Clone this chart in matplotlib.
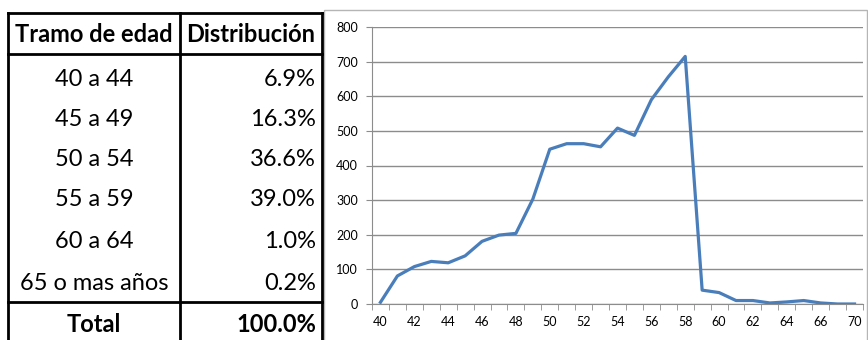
import matplotlib.pyplot as plt
from matplotlib.patches import Rectangle

# table data
tramos = ['40 a 44', '45 a 49', '50 a 54', '55 a 59', '60 a 64', '65 o mas años']
distribucion = ['6.9%', '16.3%', '36.6%', '39.0%', '1.0%', '0.2%']
total_label = 'Total'
total_value = '100.0%'

# line chart data (ages on a category axis)
edades = [40, 41, 42, 43, 44, 45, 46, 47, 48, 49, 50, 51, 52, 53, 54, 55, 56, 57,
          58, 59, 60, 61, 62, 63, 64, 65, 66, 68, 70]
valores = [5, 81, 108, 123, 119, 139, 181, 199, 204, 303, 447, 463, 463, 454, 508,
           487, 590, 656, 715, 40, 33, 10, 10, 3, 6, 10, 3, 0, 0]

plt.rcParams['font.family'] = ['Lato', 'DejaVu Sans']

W, H = 868, 340
fig = plt.figure(figsize=(W / 100, H / 100), dpi=100)

# background axes in pixel coordinates for table and frame
bg = fig.add_axes([0, 0, 1, 1])
bg.set_xlim(0, W)
bg.set_ylim(H, 0)
bg.axis('off')

lw = 2.0
x0, xm, x1 = 8, 180, 322
bg.plot([x0, x1], [13, 13], color='black', lw=lw)
bg.plot([x0, x1], [54, 54], color='black', lw=lw)
bg.plot([x0, x1], [302, 302], color='black', lw=lw)
for x in (x0, xm, x1):
    bg.plot([x, x], [13, H], color='black', lw=lw)

fs = 17
bg.text((x0 + xm) / 2, 34, 'Tramo de edad', ha='center', va='center',
        fontsize=fs, fontweight='bold')
bg.text((xm + x1) / 2, 34, 'Distribución', ha='center', va='center',
        fontsize=fs, fontweight='bold')
row_y = [79, 119, 159, 199, 241, 284]
for y, t, d in zip(row_y, tramos, distribucion):
    bg.text((x0 + xm) / 2, y, t, ha='center', va='center', fontsize=fs)
    bg.text(316, y, d, ha='right', va='center', fontsize=fs)
bg.text((x0 + xm) / 2, 324, total_label, ha='center', va='center',
        fontsize=fs, fontweight='bold')
bg.text(316, 324, total_value, ha='right', va='center', fontsize=fs,
        fontweight='bold')

# chart frame
bg.add_patch(Rectangle((324, 10), 543, 340, fill=False, edgecolor='#b5b5b5', lw=1))

# line chart
ax = fig.add_axes([372 / W, (H - 304) / H, 491 / W, 277 / H])
pos = list(range(len(edades)))
ax.plot(pos, valores, color='#4a7ebb', lw=2.3)
ax.set_xlim(-0.5, len(edades) - 0.5)
ax.set_ylim(0, 800)
ax.set_yticks(range(0, 801, 100))
ax.grid(axis='y', color='#8c8c8c', lw=1)
ax.set_axisbelow(True)

ax.set_xticks(pos[::2])
ax.set_xticklabels([str(e) for e in edades[::2]])
ax.set_xticks([p - 0.5 for p in pos] + [pos[-1] + 0.5], minor=True)
ax.tick_params(axis='x', which='major', length=0, pad=9, labelsize=9)
ax.tick_params(axis='x', which='minor', length=4, color='#8c8c8c', direction='out')
ax.tick_params(axis='y', length=4, color='#8c8c8c', pad=6, labelsize=9)

for s in ('top', 'right'):
    ax.spines[s].set_visible(False)
ax.spines['left'].set_color('#8c8c8c')
ax.spines['bottom'].set_color('#8c8c8c')

fig.savefig('out.png', dpi=100)
